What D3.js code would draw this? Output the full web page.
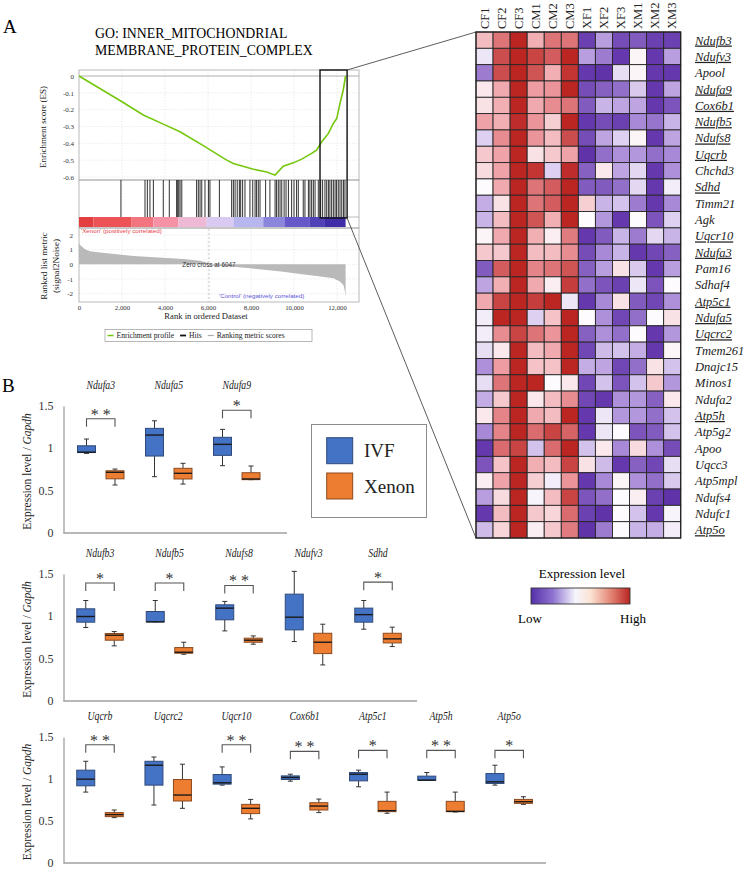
<!DOCTYPE html>
<html>
<head>
<meta charset="utf-8">
<style>
    body { margin: 0; background: #fff; }
    svg { display: block; font-family: "Liberation Serif", "Times New Roman", serif; }
    .tick text { fill: #333; }
    .small-sans { font-family: "Liberation Sans", Arial, sans-serif; }
</style>
</head>
<body>
<svg id="fig" width="750" height="871"></svg>

<script src="https://d3js.org/d3.v7.min.js"></script>
<script>
    // ---------- panel A : GSEA enrichment plot ----------
    let esRanks  = [0, 2000, 2990, 3920, 4700, 5800, 6870, 7180, 8110, 8730, 9120, 9500, 9970, 10360, 10820, 11050, 11290, 11600, 11830, 11990, 12140, 12290, 12400]
    let esValues = [0, -0.153, -0.232, -0.286, -0.331, -0.415, -0.5, -0.52, -0.554, -0.57, -0.589, -0.536, -0.516, -0.494, -0.46, -0.44, -0.391, -0.341, -0.282, -0.252, -0.163, -0.083, 0]

    let hitRanks = [1950, 3070, 3180, 3300, 3460, 3920, 4200, 4540, 4590, 4640, 4700, 4780, 5470, 5550, 5630, 5710,
        5860, 6020, 6090, 6530, 7100, 7180, 7260, 7360, 7460, 7520, 7610, 7720, 7950, 8080, 8190, 8260, 8340, 8420,
        8680, 8880, 9120, 9190, 9270, 9350, 9430, 9540, 9630, 9740, 9890, 10000, 10120, 10200, 10430, 10510, 10670,
        10740, 10820, 10900, 10980, 11130, 11240, 11330, 11440, 11520, 11600, 11670, 11750, 11830, 11910, 11980,
        12060, 12140, 12220, 12300, 12370]

    let metricRanks  = [0, 50, 280, 510, 980, 1750, 2530, 3300, 4080, 4850, 5630, 6000, 6047, 6100, 7180, 7950, 8730, 9500, 10280, 11050, 11830, 12140, 12300, 12370, 12400]
    let metricValues = [1.45, 1.32, 1.02, 0.89, 0.8, 0.68, 0.57, 0.5, 0.43, 0.36, 0.25, 0.1, 0, -0.08, -0.16, -0.27, -0.39, -0.5, -0.66, -0.8, -0.95, -1.18, -1.41, -1.86, -2.2]

    let bandEdges = [0, 670, 2450, 3460, 4620, 5940, 7180, 8570, 9580, 10740, 11440, 12400]
    let zoomRanks = [11210, 12470]
    let zeroCross = 6047

    let esTicks = [0, -0.1, -0.2, -0.3, -0.4, -0.5, -0.6]
    let metricTicks = [2, 1, 0, -1, -2]
    let rankTicks = [0, 2000, 4000, 6000, 8000, 10000, 12000]

    // ---------- heatmap ----------
    let samples = ["CF1", "CF2", "CF3", "CM1", "CM2", "CM3", "XF1", "XF2", "XF3", "XM1", "XM2", "XM3"]
    let heatGenes = ["Ndufb3", "Ndufv3", "Apool", "Ndufa9", "Cox6b1", "Ndufb5", "Ndufs8", "Uqcrb", "Chchd3", "Sdhd",
        "Timm21", "Agk", "Uqcr10", "Ndufa3", "Pam16", "Sdhaf4", "Atp5c1", "Ndufa5", "Uqcrc2", "Tmem261", "Dnajc15",
        "Minos1", "Ndufa2", "Atp5h", "Atp5g2", "Apoo", "Uqcc3", "Atp5mpl", "Ndufs4", "Ndufc1", "Atp5o"]
    let underlined = ["Ndufb3", "Ndufv3", "Ndufa9", "Cox6b1", "Ndufb5", "Ndufs8", "Uqcrb", "Sdhd", "Uqcr10", "Ndufa3",
        "Atp5c1", "Ndufa5", "Uqcrc2", "Atp5h", "Atp5o"]
    // relative expression, -3 (low) .. 3 (high)
    let heatValues = [
        [1.0, 2.0, 3, 1.2, 2.0, 2.0, -2.7, -1.3, -2.5, -2.3, -2.7, -2.7],
        [-0.3, 2.5, 3, 2.6, 2.3, 3, -1.3, -1.8, -2.8, 0.1, -2.8, -1.3],
        [-1.8, 2.5, 3, 2.4, 1.2, 2.8, -2.8, -2.9, -0.4, 0.1, -2.8, -2.8],
        [0.3, 1.3, 3, 1.5, 1.6, 3, -2.5, -2.2, -2.0, -0.7, -2.8, -1.2],
        [0.4, 1.2, 3, 1.3, 1.7, 2.0, -2.3, -1.0, -1.2, -1.2, -2.8, -2.4],
        [1.4, 1.2, 2.9, 1.6, 0.7, 3, -2.8, -2.5, -2.7, -1.6, -1.9, -1.0],
        [-0.6, 1.7, 3, 1.6, 1.0, 2.5, -2.5, -1.2, -0.6, 0.1, -2.8, -1.2],
        [0.8, 1.4, 3, 0.4, 0.8, 1.4, -2.9, -2.0, -1.5, -1.4, -2.0, -1.6],
        [0.5, 1.4, 3, 2.8, -0.6, 2.9, -2.2, 0.3, -1.2, -0.5, -2.8, -1.5],
        [0.0, 1.3, 3, 2.0, 2.3, 3, -2.3, -2.3, -2.0, -0.5, -2.8, -0.2],
        [-1.1, 0.4, 3, 2.0, 2.3, 3, 0.7, -1.0, -0.8, -1.8, -2.8, -1.6],
        [-1.0, 1.0, 3, 2.4, 1.2, 3, 0.0, -1.4, -2.8, 0.0, -2.4, -0.6],
        [0.1, 1.3, 3, 1.2, 0.2, 1.9, -2.8, -2.3, -1.0, -1.8, -0.5, -1.0],
        [0.8, 0.8, 3, 1.0, 1.0, 1.7, -2.5, -1.6, -1.0, -2.8, -2.6, -2.2],
        [-2.3, 2.3, 3, 1.8, 2.0, 2.4, -2.2, -1.3, 0.4, -0.7, -2.8, -1.3],
        [-1.2, 1.2, 3, 1.3, 0.2, 2.7, -2.0, -2.4, -2.7, -0.3, -2.4, 0.0],
        [1.3, 2.6, 3, 2.7, 3, -0.3, -2.8, -1.6, 0.4, -2.3, -2.6, -1.5],
        [-0.2, 3, 3, -0.6, 0.9, 3, 0.0, -1.5, -2.6, -2.0, 0.0, 0.4],
        [-0.2, 1.7, 2.6, 2.0, 1.6, 3, -2.2, -1.5, -2.0, 0.0, -2.8, -1.4],
        [-0.4, 0.3, 3, 1.0, 1.3, 3, -2.6, -0.9, -0.8, -1.1, -2.8, 0.1],
        [-1.5, 1.5, 3, 0.9, 0.9, 3, -1.1, -1.2, -2.6, -2.0, 0.4, -0.8],
        [-0.4, 2.0, 3, 3, 0.0, 0.3, -2.6, -0.8, -2.4, -0.8, 0.8, -1.4],
        [-1.1, 0.8, 3, 0.3, 1.0, 1.7, -2.6, -2.8, -1.5, -1.4, -2.2, 0.3],
        [0.3, 1.8, 3, 1.3, 1.0, 3, -2.8, -0.3, -1.4, -1.4, -2.0, -0.8],
        [-1.6, 1.8, 3, 2.1, 2.6, 2.2, -2.8, -0.3, 0.0, -2.4, -2.3, -0.8],
        [-2.8, 2.1, 2.6, -0.8, 2.1, 3, -0.8, 0.3, -1.6, 0.5, -1.5, -2.5],
        [-2.4, 0.9, 3, 1.2, 1.0, 2.6, 0.4, -0.9, -2.8, -2.2, -2.6, -0.4],
        [0.2, 1.4, 3, 0.7, -0.2, 1.6, -2.8, -1.6, 0.1, -1.5, -2.0, -0.7],
        [-1.3, 0.5, 3, -0.1, 1.0, 2.6, -2.4, -2.0, 0.0, 0.2, -2.7, -2.9],
        [-2.8, 1.0, 3, 0.8, 0.6, 2.1, -2.7, -2.9, 0.0, -0.8, -2.8, -0.1],
        [-0.9, 0.6, 3, 0.2, 0.8, 1.9, -2.9, -1.8, 0.0, -1.0, -1.1, -0.2]
    ]

    // ---------- panel B : qPCR box plots  [min, q1, median, q3, max] ----------
    let groups = ["IVF", "Xenon"]

    let row1Genes = ["Ndufa3", "Ndufa5", "Ndufa9"]
    let row1Ivf = [[0.94, 0.95, 0.955, 1.03, 1.11], [0.665, 0.909, 1.157, 1.236, 1.325], [0.795, 0.917, 1.047, 1.13, 1.224]]
    let row1Xen = [[0.567, 0.64, 0.717, 0.735, 0.755], [0.578, 0.638, 0.705, 0.764, 0.823], [0.63, 0.63, 0.638, 0.712, 0.791]]
    let row1Sig = ["**", "", "*"]
    let row1SigAt = [1.35, null, 1.45]

    let row2Genes = ["Ndufb3", "Ndufb5", "Ndufs8", "Ndufv3", "Sdhd"]
    let row2Ivf = [[0.868, 0.931, 0.998, 1.089, 1.187], [0.935, 0.935, 0.935, 1.057, 1.187], [0.828, 0.959, 1.097, 1.136, 1.176],
        [0.702, 0.84, 0.99, 1.262, 1.531], [0.848, 0.931, 1.02, 1.097, 1.187]]
    let row2Xen = [[0.651, 0.718, 0.777, 0.797, 0.82], [0.552, 0.564, 0.576, 0.631, 0.694], [0.671, 0.694, 0.718, 0.742, 0.769],
        [0.426, 0.56, 0.694, 0.8, 0.907], [0.643, 0.686, 0.734, 0.8, 0.872]]
    let row2Sig = ["*", "*", "**", "", "*"]
    let row2SigAt = [1.393, 1.393, 1.365, null, 1.404]

    let row3Genes = ["Uqcrb", "Uqcrc2", "Uqcr10", "Cox6b1", "Atp5c1", "Atp5h", "Atp5o"]
    let row3Ivf = [[0.844, 0.919, 0.998, 1.105, 1.211], [0.69, 0.927, 1.164, 1.211, 1.262], [0.927, 0.939, 0.955, 1.053, 1.144],
        [0.974, 0.994, 1.018, 1.037, 1.057], [0.907, 0.978, 1.057, 1.077, 1.105], [0.986, 0.986, 0.986, 1.034, 1.077],
        [0.927, 0.947, 0.966, 1.065, 1.164]]
    let row3Xen = [[0.54, 0.552, 0.576, 0.6, 0.631], [0.651, 0.738, 0.809, 0.994, 1.176], [0.525, 0.588, 0.651, 0.698, 0.757],
        [0.6, 0.631, 0.678, 0.718, 0.761], [0.592, 0.611, 0.623, 0.734, 0.844], [0.607, 0.611, 0.615, 0.734, 0.844],
        [0.698, 0.71, 0.73, 0.757, 0.789]]
    let row3Sig = ["**", "", "**", "**", "*", "**", "*"]
    let row3SigAt = [1.408, null, 1.408, 1.329, 1.341, 1.341, 1.341]

    let exprTicks = [0, 0.5, 1, 1.5]

    // =====================================================
    let svg = d3.select("#fig")
    svg.append("rect").attr("width", 750).attr("height", 871).attr("fill", "#fff")

    svg.append("text").attr("x", 3).attr("y", 33).style("font-size", "19px").text("A")
    svg.append("text").attr("x", 2).attr("y", 392).style("font-size", "19px").text("B")

    // ---------------- GSEA ----------------
    let x = d3.scaleLinear().domain([0, 12000]).range([79, 337])
    let yEs = d3.scaleLinear().domain([-0.6, 0]).range([177, 76])
    let yMetric = d3.scaleLinear().domain([-2, 2]).range([293.6, 235])

    let plotL = 79, plotR = 359
    let gsea = svg.append("g")

    gsea.append("text").attr("x", 95).attr("y", 37.5).style("font-size", "13.8px").text("GO: INNER_MITOCHONDRIAL")
    gsea.append("text").attr("x", 95).attr("y", 55).style("font-size", "13.8px").text("MEMBRANE_PROTEIN_COMPLEX")

    // grid
    let grid = gsea.append("g").attr("stroke", "#e4e4e4").attr("stroke-width", 0.7).attr("stroke-dasharray", "1.5,1.5")
    rankTicks.slice(1).forEach(r => {
        grid.append("line").attr("x1", x(r)).attr("x2", x(r)).attr("y1", 70).attr("y2", 217)
        grid.append("line").attr("x1", x(r)).attr("x2", x(r)).attr("y1", 228).attr("y2", 302)
    })
    esTicks.slice(1).forEach(t => {
        grid.append("line").attr("x1", plotL).attr("x2", plotR).attr("y1", yEs(t)).attr("y2", yEs(t))
    })
    metricTicks.forEach(t => {
        grid.append("line").attr("x1", plotL).attr("x2", plotR).attr("y1", yMetric(t)).attr("y2", yMetric(t))
    })

    // frames
    let frame = gsea.append("g").attr("fill", "none").attr("stroke", "#a8a8a8").attr("stroke-width", 0.8)
    frame.append("rect").attr("x", plotL).attr("y", 70).attr("width", plotR - plotL).attr("height", 110)
    frame.append("rect").attr("x", plotL).attr("y", 180).attr("width", plotR - plotL).attr("height", 48)
    frame.append("rect").attr("x", plotL).attr("y", 228).attr("width", plotR - plotL).attr("height", 74)
    frame.append("line").attr("x1", plotL).attr("x2", plotR).attr("y1", yEs(0)).attr("y2", yEs(0)).attr("stroke", "#999")
    frame.append("line").attr("x1", x(12400)).attr("x2", plotR).attr("y1", 217).attr("y2", 217)

    // ranked metric area
    let metricData = metricRanks.map((r, i) => ({ r: r, v: metricValues[i] }))
    gsea.append("path")
        .datum(metricData)
        .attr("fill", "#b9b9b9")
        .attr("d", d3.area().x(d => x(d.r)).y0(yMetric(0)).y1(d => yMetric(d.v)))

    gsea.append("line")
        .attr("x1", x(zeroCross)).attr("x2", x(zeroCross)).attr("y1", 217).attr("y2", 302)
        .attr("stroke", "#bdbdbd").attr("stroke-width", 0.8).attr("stroke-dasharray", "2,2")

    gsea.append("text").attr("class", "small-sans")
        .attr("x", x(zeroCross)).attr("y", yMetric(0)).attr("dy", "0.35em")
        .attr("text-anchor", "middle").style("font-size", "6.4px").attr("fill", "#333")
        .text("Zero cross at " + zeroCross)

    // colour bar
    let bandColor = d3.scaleLinear()
        .domain([0, 2000, 4600, 6000, 8000, 10000, 12400])
        .range(["#e03a3a", "#f05a5e", "#f6a2b8", "#e6d2f2", "#b4b4ee", "#6a5ccc", "#34219e"])
    gsea.append("g").selectAll("rect")
        .data(d3.pairs(bandEdges))
        .join("rect")
        .attr("x", d => x(d[0]))
        .attr("width", d => x(d[1]) - x(d[0]))
        .attr("y", 217).attr("height", 10)
        .attr("fill", d => bandColor((d[0] + d[1]) / 2))

    // hits
    gsea.append("g").selectAll("line")
        .data(hitRanks)
        .join("line")
        .attr("x1", d => x(d)).attr("x2", d => x(d))
        .attr("y1", 180).attr("y2", 217)
        .attr("stroke", "#1a1a1a").attr("stroke-width", 0.9)

    // enrichment profile
    let esData = esRanks.map((r, i) => ({ r: r, v: esValues[i] }))
    gsea.append("path")
        .datum(esData)
        .attr("fill", "none").attr("stroke", "#74c70c").attr("stroke-width", 1.6)
        .attr("d", d3.line().x(d => x(d.r)).y(d => yEs(d.v)))

    // axes
    gsea.append("g").attr("transform", `translate(${plotL},0)`)
        .call(d3.axisLeft(yEs).tickValues(esTicks).tickSize(0).tickPadding(5).tickFormat(d => d === 0 ? "0" : d.toFixed(1)))
        .call(g => g.select(".domain").remove())
        .call(g => g.selectAll("text").style("font-size", "7px").style("font-family", "Liberation Serif"))

    gsea.append("g").attr("transform", `translate(${plotL},0)`)
        .call(d3.axisLeft(yMetric).tickValues(metricTicks).tickSize(0).tickPadding(6).tickFormat(d => String(d)))
        .call(g => g.select(".domain").remove())
        .call(g => g.selectAll("text").style("font-size", "7px").style("font-family", "Liberation Serif"))

    gsea.append("g").attr("transform", "translate(0,302)")
        .call(d3.axisBottom(x).tickValues(rankTicks).tickSize(0).tickPadding(3).tickFormat(d3.format(",")))
        .call(g => g.select(".domain").remove())
        .call(g => g.selectAll("text").style("font-size", "6.8px").style("font-family", "Liberation Serif"))

    gsea.append("text").attr("x", 206).attr("y", 319).attr("text-anchor", "middle")
        .style("font-size", "8.6px").attr("fill", "#222").text("Rank in ordered Dataset")

    gsea.append("text").attr("transform", "translate(46,127) rotate(-90)").attr("text-anchor", "middle")
        .style("font-size", "9px").attr("fill", "#222").text("Enrichment score (ES)")
    gsea.append("text").attr("transform", "translate(47,266) rotate(-90)").attr("text-anchor", "middle")
        .style("font-size", "9.2px").attr("fill", "#222").text("Ranked list metric")
    gsea.append("text").attr("transform", "translate(59,266) rotate(-90)").attr("text-anchor", "middle")
        .style("font-size", "9.2px").attr("fill", "#222").text("(signal2Noise)")

    gsea.append("text").attr("class", "small-sans").attr("x", 81).attr("y", 233)
        .style("font-size", "6.2px").attr("fill", "#e8424a").text("'Xenon' (positively correlated)")
    gsea.append("text").attr("class", "small-sans").attr("x", 219).attr("y", 298)
        .style("font-size", "6.2px").attr("fill", "#5a54d6").text("'Control' (negatively correlated)")

    // legend
    let lg = gsea.append("g")
    lg.append("rect").attr("x", 105).attr("y", 329.5).attr("width", 207).attr("height", 12)
        .attr("fill", "#fff").attr("stroke", "#999").attr("stroke-width", 0.7)
    let legendItems = [
        { label: "Enrichment profile", color: "#74c70c", w: 1.5 },
        { label: "Hits", color: "#111", w: 1.8 },
        { label: "Ranking metric scores", color: "#aaa", w: 1.2 }
    ]
    let lx = 107.5
    legendItems.forEach(it => {
        lg.append("line").attr("x1", lx).attr("x2", lx + 6).attr("y1", 335.5).attr("y2", 335.5)
            .attr("stroke", it.color).attr("stroke-width", it.w)
        let t = lg.append("text").attr("x", lx + 9).attr("y", 338.2).style("font-size", "7.6px").attr("fill", "#222").text(it.label)
        lx += 9 + t.node().getComputedTextLength() + 6
    })

    // zoom rectangle and connector lines
    let hx0 = 476, hx1 = 680.7, hy0 = 32, hy1 = 538
    gsea.append("rect").attr("x", x(zoomRanks[0])).attr("y", 70)
        .attr("width", x(zoomRanks[1]) - x(zoomRanks[0])).attr("height", 148)
        .attr("fill", "none").attr("stroke", "#111").attr("stroke-width", 1.4)
    gsea.append("line").attr("x1", x(zoomRanks[1])).attr("y1", 70).attr("x2", hx0).attr("y2", hy0)
        .attr("stroke", "#333").attr("stroke-width", 0.8)
    gsea.append("line").attr("x1", x(zoomRanks[1])).attr("y1", 218).attr("x2", hx0).attr("y2", hy1)
        .attr("stroke", "#333").attr("stroke-width", 0.8)

    // ---------------- heatmap ----------------
    let hxs = d3.scaleBand().domain(samples).range([hx0, hx1])
    let hys = d3.scaleBand().domain(heatGenes).range([hy0, hy1])
    let heatColor = d3.scaleLinear()
        .domain([-3, -1.5, 0, 1.5, 3])
        .range(["#5a2ca6", "#ae90da", "#fdfbfe", "#ee9ca2", "#bb2522"])

    let cells = []
    heatGenes.forEach((g, r) => samples.forEach((s, c) => cells.push({ g: g, s: s, v: heatValues[r][c] })))

    let heat = svg.append("g")
    heat.selectAll("rect")
        .data(cells)
        .join("rect")
        .attr("x", d => hxs(d.s)).attr("y", d => hys(d.g))
        .attr("width", hxs.bandwidth()).attr("height", hys.bandwidth())
        .attr("fill", d => heatColor(d.v))
        .attr("stroke", "#262626").attr("stroke-width", 0.9)
    heat.append("rect").attr("x", hx0).attr("y", hy0).attr("width", hx1 - hx0).attr("height", hy1 - hy0)
        .attr("fill", "none").attr("stroke", "#222").attr("stroke-width", 1.2)

    heat.selectAll(".col-label")
        .data(samples)
        .join("text")
        .attr("class", "col-label")
        .attr("transform", d => `translate(${hxs(d) + hxs.bandwidth() / 2},29) rotate(-90)`)
        .attr("dominant-baseline", "central")
        .style("font-size", "12.5px").attr("fill", "#222")
        .text(d => d)

    heat.selectAll(".row-label")
        .data(heatGenes)
        .join("text")
        .attr("class", "row-label")
        .attr("x", 695).attr("y", d => hys(d) + hys.bandwidth() / 2)
        .attr("dy", "0.35em")
        .style("font-size", "12.5px").style("font-style", "italic").attr("fill", "#222")
        .style("text-decoration", d => underlined.includes(d) ? "underline" : "none")
        .text(d => d)

    // colour key
    let defs = svg.append("defs")
    let grad = defs.append("linearGradient").attr("id", "exprGrad")
    let gradStops = [[0, "#5530a8"], [0.22, "#8e72d0"], [0.45, "#f6f6fd"], [0.6, "#fbe3d4"], [0.8, "#e48878"], [1, "#b82420"]]
    gradStops.forEach(s => grad.append("stop").attr("offset", s[0]).attr("stop-color", s[1]))
    svg.append("text").attr("x", 582).attr("y", 578).attr("text-anchor", "middle").style("font-size", "13px").text("Expression level")
    svg.append("rect").attr("x", 531).attr("y", 588).attr("width", 99).attr("height", 16)
        .attr("fill", "url(#exprGrad)").attr("stroke", "#333").attr("stroke-width", 0.9)
    svg.append("text").attr("x", 530).attr("y", 623).attr("text-anchor", "middle").style("font-size", "13px").text("Low")
    svg.append("text").attr("x", 633).attr("y", 623).attr("text-anchor", "middle").style("font-size", "13px").text("High")

    // ---------------- box plots ----------------
    let boxRows = [
        { genes: row1Genes, ivf: row1Ivf, xen: row1Xen, sig: row1Sig, sigAt: row1SigAt },
        { genes: row2Genes, ivf: row2Ivf, xen: row2Xen, sig: row2Sig, sigAt: row2SigAt },
        { genes: row3Genes, ivf: row3Ivf, xen: row3Xen, sig: row3Sig, sigAt: row3SigAt }
    ]
    let rowLayout = [
        { top: 406, bottom: 533, first: 100.75, step: 68, axisEnd: 287 },
        { top: 574, bottom: 701, first: 100, step: 69.5, axisEnd: 417 },
        { top: 737, bottom: 863, first: 100, step: 68.2, axisEnd: 546 }
    ]
    let fillColor = d3.scaleOrdinal().domain(groups).range(["#4472c4", "#ed7d31"])
    let edgeColor = d3.scaleOrdinal().domain(groups).range(["#2f4a7a", "#8a4a20"])
    let axisL = 63.5, boxW = 18, offset = 14.25

    boxRows.forEach((row, ri) => {
        let L = rowLayout[ri]
        let g = svg.append("g")
        let xs = d3.scalePoint().domain(row.genes).range([L.first, L.first + L.step * (row.genes.length - 1)])
        let ys = d3.scaleLinear().domain([0, 1.5]).range([L.bottom, L.top])

        g.append("g").attr("transform", `translate(${axisL},0)`)
            .call(d3.axisLeft(ys).tickValues(exprTicks).tickSize(0).tickPadding(10).tickFormat(d => String(d)))
            .call(a => a.select(".domain").attr("stroke", "#a0a0a0").attr("stroke-width", 1.3))
            .call(a => a.selectAll("text").attr("dy", "0.3em").style("font-size", "12px").style("font-family", "Liberation Serif"))
        g.append("line").attr("x1", axisL).attr("x2", L.axisEnd).attr("y1", L.bottom).attr("y2", L.bottom)
            .attr("stroke", "#a0a0a0").attr("stroke-width", 1.3)

        let yl = g.append("text")
            .attr("transform", `translate(27,${(L.top + L.bottom) / 2 + 2}) rotate(-90)`)
            .attr("text-anchor", "middle").attr("dominant-baseline", "central")
            .style("font-size", "11.5px").attr("fill", "#222")
        yl.append("tspan").text("Expression level / ")
        yl.append("tspan").style("font-style", "italic").text("Gapdh")

        g.selectAll(".gname")
            .data(row.genes)
            .join("text")
            .attr("class", "gname")
            .attr("transform", d => `translate(${xs(d)},${L.top - 17}) scale(0.78,1)`)
            .attr("text-anchor", "middle")
            .style("font-size", "12.5px").style("font-style", "italic").attr("fill", "#222")
            .text(d => d)

        row.genes.forEach((gene, i) => {
            let cx = xs(gene)
            groups.forEach((grp, k) => {
                let s = k === 0 ? row.ivf[i] : row.xen[i]
                let bx = cx + (k === 0 ? -offset : offset)
                let b = g.append("g")
                b.append("line").attr("x1", bx).attr("x2", bx).attr("y1", ys(s[4])).attr("y2", ys(s[3]))
                    .attr("stroke", "#333").attr("stroke-width", 1)
                b.append("line").attr("x1", bx).attr("x2", bx).attr("y1", ys(s[1])).attr("y2", ys(s[0]))
                    .attr("stroke", "#333").attr("stroke-width", 1)
                b.append("line").attr("x1", bx - 2.5).attr("x2", bx + 2.5).attr("y1", ys(s[4])).attr("y2", ys(s[4]))
                    .attr("stroke", "#333").attr("stroke-width", 1)
                b.append("line").attr("x1", bx - 2.5).attr("x2", bx + 2.5).attr("y1", ys(s[0])).attr("y2", ys(s[0]))
                    .attr("stroke", "#333").attr("stroke-width", 1)
                b.append("rect").attr("x", bx - boxW / 2).attr("width", boxW)
                    .attr("y", ys(s[3])).attr("height", Math.max(ys(s[1]) - ys(s[3]), 1.5))
                    .attr("fill", fillColor(grp)).attr("stroke", edgeColor(grp)).attr("stroke-width", 1)
                b.append("line").attr("x1", bx - boxW / 2).attr("x2", bx + boxW / 2).attr("y1", ys(s[2])).attr("y2", ys(s[2]))
                    .attr("stroke", "#1a1a1a").attr("stroke-width", 1.4)
            })
            if (row.sig[i]) {
                let by = ys(row.sigAt[i])
                g.append("path")
                    .attr("d", `M${cx - offset},${by + 8}V${by}H${cx + offset}V${by + 8}`)
                    .attr("fill", "none").attr("stroke", "#555").attr("stroke-width", 1.1)
                g.append("text").attr("x", cx).attr("y", by + 1).attr("text-anchor", "middle")
                    .style("font-size", "16px").attr("fill", "#333")
                    .text(row.sig[i] === "**" ? "* *" : "*")
            }
        })
    })

    // box legend
    let bl = svg.append("g")
    bl.append("rect").attr("x", 311.5).attr("y", 424.5).attr("width", 115).attr("height", 93)
        .attr("fill", "#fff").attr("stroke", "#8c8c8c").attr("stroke-width", 1)
    groups.forEach((grp, k) => {
        let yy = [437.7, 473][k]
        bl.append("rect").attr("x", 326.7).attr("y", yy).attr("width", 26).attr("height", 26)
            .attr("fill", fillColor(grp)).attr("stroke", edgeColor(grp)).attr("stroke-width", 1)
        bl.append("text").attr("x", 364).attr("y", yy + 13).attr("dy", "0.35em")
            .style("font-size", "19px").attr("fill", "#222").text(grp)
    })
</script>
</body>
</html>
